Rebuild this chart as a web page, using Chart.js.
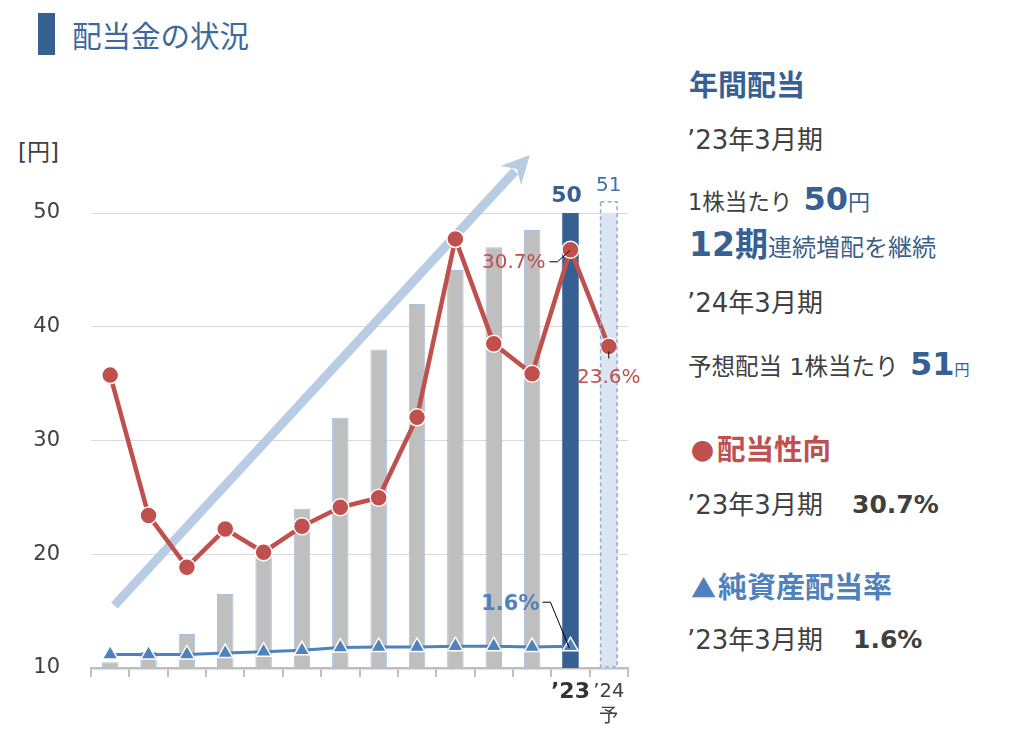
<!DOCTYPE html>
<html lang="ja">
<head>
<meta charset="utf-8">
<script src="https://cdn.jsdelivr.net/npm/chart.js@4.4.1/dist/chart.umd.min.js"></script>
<style>
  body { margin: 0; width: 1010px; height: 736px; background: #fff; position: relative; overflow: hidden;
         font-family: "DejaVu Sans", "Noto Sans CJK JP", sans-serif; color: #404040; }
  .abs { position: absolute; white-space: nowrap; line-height: 1; }
  .row { position: absolute; white-space: nowrap; line-height: 1; display: flex; align-items: baseline; transform: translateY(-50%); }
  .cjk { font-family: "Noto Sans CJK JP", sans-serif; }
  #chartCanvas { position: absolute; left: 0; top: 0; }
  .blue { color: #366092; }
  .red { color: #c0504d; }
  .lblue { color: #4f81bd; }
</style>
</head>
<body>
<div class="abs" style="left:38px;top:13px;width:17px;height:42px;background:#366092;"></div>
<div class="row cjk" style="left:72px;top:35px;font-size:29.5px;color:#3d6a9e;">配当金の状況</div>
<div class="row" style="left:18px;top:152px;font-size:23px;color:#404040;">[円]</div>

<canvas id="chartCanvas" width="670" height="736"></canvas>

<div class="row blue" style="left:689px;top:86px;font-size:29px;font-weight:bold;">年間配当</div>
<div class="row" style="left:687px;top:140px;font-size:26px;">’23年3月期</div>
<div class="row" style="left:688px;top:199px;font-size:22.5px;">1株当たり&nbsp;<span class="blue" style="font-size:32px;font-weight:bold;margin-left:4px;">50</span><span class="blue cjk" style="font-size:22px;">円</span></div>
<div class="row" style="left:689px;top:244px;font-size:24px;color:#3c5f8c;"><span class="blue" style="font-size:33px;font-weight:bold;">12期</span>連続増配を継続</div>
<div class="row" style="left:687px;top:303px;font-size:26px;">’24年3月期</div>
<div class="row" style="left:688px;top:364px;font-size:23.5px;">予想配当&nbsp;1株当たり&nbsp;<span class="blue" style="font-size:32px;font-weight:bold;margin-left:4px;">51</span><span class="blue cjk" style="font-size:15px;">円</span></div>

<div class="row red" style="left:691px;top:451px;font-size:28.5px;font-weight:bold;"><span class="cjk" style="font-size:23px;margin-right:3px;">●</span>配当性向</div>
<div class="row" style="left:687px;top:505px;font-size:26px;">’23年3月期<b style="position:absolute;left:165px;font-size:25px;">30.7%</b></div>
<div class="row lblue" style="left:691px;top:588px;font-size:29px;font-weight:bold;"><span class="cjk" style="font-size:25px;margin-right:2px;">▲</span>純資産配当率</div>
<div class="row" style="left:687px;top:640px;font-size:26px;">’23年3月期<b style="position:absolute;left:166px;font-size:25px;">1.6%</b></div>

<script>
// categories (FY) - only the last two are labelled
var periods = ['', '', '', '', '', '', '', '', '', '', '', '', '’23', ['’24', '予']];
// dividend per share [円]
var dividends = [10.5, 11.4, 13, 16.5, 20, 24, 32, 38, 42, 45, 47, 48.5, 50, 51];
// payout ratio [%]
var payoutRatio = [21.5, 11.2, 7.4, 10.2, 8.5, 10.4, 11.8, 12.5, 18.4, 31.5, 23.8, 21.6, 30.7, 23.6];
// dividend on equity [%]
var doeRatio = [1.0, 1.0, 1.0, 1.1, 1.2, 1.3, 1.5, 1.55, 1.55, 1.6, 1.6, 1.55, 1.6, null];
var yTicks = [10, 20, 30, 40, 50];

var GRAY = '#bfbfbf', DARK = '#366092', RED = '#c0504d', BLUE = '#4f81bd';
var LAST = 12, FORECAST = 13;
var FONT = '"DejaVu Sans", "Noto Sans CJK JP", sans-serif';

var barColors = dividends.map(function (v, i) {
    if (i === LAST) return DARK;
    if (i === FORECAST) return '#dce6f2';
    return GRAY;
});
var barBorders = dividends.map(function (v, i) { return i < LAST ? 1 : 0; });

// trend arrow behind the series, placed in data units
var arrowPlugin = {
    id: 'trendArrow',
    beforeDatasetsDraw: function (chart) {
        var x = chart.scales.x, y = chart.scales.y, c = chart.ctx;
        var x0 = x.getPixelForValue(0.11), y0 = y.getPixelForValue(15.5);
        var x1 = x.getPixelForValue(10.94), y1 = y.getPixelForValue(55.1);
        var ang = Math.atan2(y1 - y0, x1 - x0);
        var head = 28, half = 14;
        var bx = x1 - head * Math.cos(ang), by = y1 - head * Math.sin(ang);
        c.save();
        c.strokeStyle = '#b8cce4';
        c.fillStyle = '#b8cce4';
        c.lineWidth = 9;
        c.beginPath();
        c.moveTo(x0, y0);
        c.lineTo(bx + 6 * Math.cos(ang), by + 6 * Math.sin(ang));
        c.stroke();
        c.beginPath();
        c.moveTo(x1, y1);
        c.lineTo(bx + half * Math.sin(ang), by - half * Math.cos(ang));
        c.lineTo(bx + 9 * Math.cos(ang), by + 9 * Math.sin(ang));
        c.lineTo(bx - half * Math.sin(ang), by + half * Math.cos(ang));
        c.closePath();
        c.fill();
        c.restore();
    }
};

// dashed outline for the forecast bar and the value callouts
var labelPlugin = {
    id: 'callouts',
    afterDatasetsDraw: function (chart) {
        var c = chart.ctx;
        var ys = chart.scales.y;
        var bars = chart.getDatasetMeta(2).data;
        var red = chart.getDatasetMeta(0).data;
        var blue = chart.getDatasetMeta(1).data;
        var f = bars[FORECAST], b = bars[LAST];
        var basePx = ys.getPixelForValue(ys.min);

        c.save();
        c.setLineDash([4, 3]);
        c.strokeStyle = '#8eaadb';
        c.lineWidth = 1.5;
        c.strokeRect(f.x - f.width / 2, f.y, f.width, basePx - f.y - 1);
        c.setLineDash([]);

        c.textBaseline = 'middle';
        c.textAlign = 'center';
        c.fillStyle = DARK;
        c.font = 'bold 22px ' + FONT;
        c.fillText(String(dividends[LAST]), b.x - 4, b.y - 17);
        c.fillStyle = '#3f72ad';
        c.font = '20px ' + FONT;
        c.fillText(String(dividends[FORECAST]), f.x, f.y - 16);

        // payout ratio '23
        var p = red[LAST];
        c.textAlign = 'right';
        c.fillStyle = RED;
        c.font = '20px ' + FONT;
        c.fillText(payoutRatio[LAST].toFixed(1) + '%', p.x - 25, p.y + 13);
        c.strokeStyle = '#000';
        c.lineWidth = 1;
        c.beginPath();
        c.moveTo(p.x - 21, p.y + 12);
        c.lineTo(p.x - 13, p.y + 12);
        c.lineTo(p.x - 1, p.y + 1);
        c.stroke();

        // payout ratio '24
        var q = red[FORECAST];
        c.textAlign = 'center';
        c.fillText(payoutRatio[FORECAST].toFixed(1) + '%', q.x, q.y + 31);
        c.beginPath();
        c.moveTo(q.x, q.y + 5);
        c.lineTo(q.x, q.y + 12);
        c.stroke();

        // DOE '23
        var t = blue[LAST];
        c.textAlign = 'right';
        c.fillStyle = BLUE;
        c.font = 'bold 21px ' + FONT;
        c.fillText(doeRatio[LAST].toFixed(1) + '%', t.x - 31, t.y - 42);
        c.beginPath();
        c.moveTo(t.x - 28, t.y - 44);
        c.lineTo(t.x - 20, t.y - 44);
        c.lineTo(t.x - 1, t.y + 2);
        c.stroke();
        c.restore();
    }
};

var chart = new Chart(document.getElementById('chartCanvas').getContext('2d'), {
    data: {
        labels: periods,
        datasets: [{
            type: 'line',
            label: '配当性向',
            data: payoutRatio,
            yAxisID: 'y2',
            borderColor: RED,
            borderWidth: 4.5,
            pointStyle: 'circle',
            pointRadius: 8.5,
            pointBackgroundColor: RED,
            pointBorderColor: '#fff',
            pointBorderWidth: 1.5,
            tension: 0,
            clip: false,
            order: 1
        }, {
            type: 'line',
            label: '純資産配当率',
            data: doeRatio,
            yAxisID: 'y2',
            borderColor: BLUE,
            borderWidth: 3,
            pointStyle: 'triangle',
            pointRadius: 9,
            pointBackgroundColor: BLUE,
            pointBorderColor: '#fff',
            pointBorderWidth: 1.5,
            tension: 0,
            clip: false,
            order: 2
        }, {
            type: 'bar',
            label: '1株当たり配当金',
            data: dividends,
            yAxisID: 'y',
            backgroundColor: barColors,
            borderColor: '#a6c1e3',
            borderWidth: barBorders,
            barPercentage: 0.43,
            categoryPercentage: 1,
            order: 3
        }]
    },
    options: {
        responsive: false,
        animation: false,
        layout: { padding: { top: 213, right: 42, left: 0, bottom: 0 } },
        plugins: { legend: { display: false }, tooltip: { enabled: false } },
        scales: {
            x: {
                offset: true,
                afterFit: function (s) { s.height = 68; },
                grid: {
                    offset: true,
                    drawOnChartArea: false,
                    drawTicks: true,
                    tickLength: 9,
                    color: GRAY,
                    lineWidth: 2
                },
                border: { display: true, color: GRAY, width: 2.5 },
                ticks: {
                    autoSkip: false,
                    maxRotation: 0,
                    padding: 3,
                    color: function (ctx) { return ctx.index === LAST ? '#333' : '#404040'; },
                    font: function (ctx) {
                        return ctx.index === LAST
                            ? { family: FONT, size: 22, weight: 'bold', lineHeight: 1.1 }
                            : { family: FONT, size: 19.5, weight: 'normal', lineHeight: 1.25 };
                    }
                }
            },
            y: {
                min: 10,
                max: 50,
                afterFit: function (s) { s.width = 91; },
                afterBuildTicks: function (s) { s.ticks = yTicks.map(function (v) { return { value: v }; }); },
                grid: { color: '#d9d9d9', lineWidth: 1, drawTicks: false },
                border: { display: false },
                ticks: {
                    padding: 31,
                    color: '#404040',
                    font: { family: FONT, size: 21 }
                }
            },
            y2: {
                display: false,
                min: 0,
                max: 33.4
            }
        }
    },
    plugins: [arrowPlugin, labelPlugin]
});
</script>
</body>
</html>
